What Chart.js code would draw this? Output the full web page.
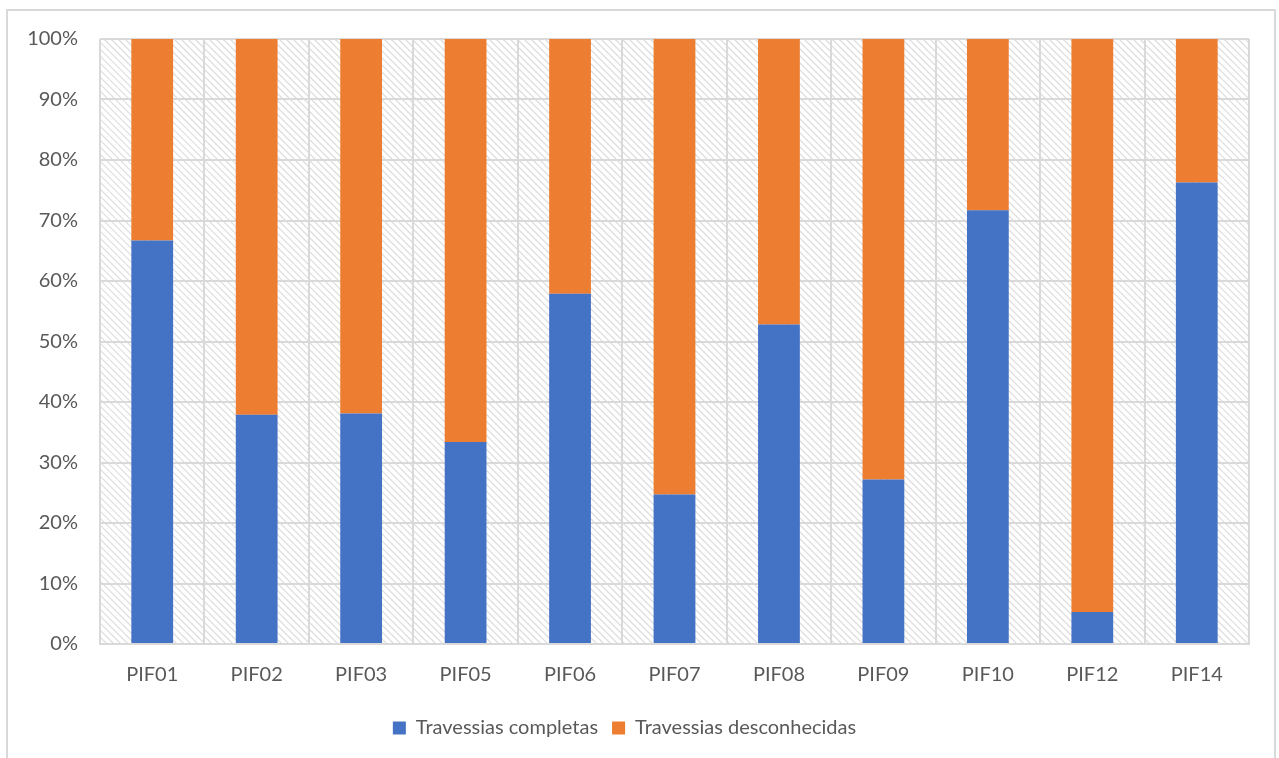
<!DOCTYPE html>
<html>
<head>
<meta charset="utf-8">
<script src="https://cdn.jsdelivr.net/npm/chart.js@4.4.1/dist/chart.umd.min.js"></script>
<style>
  html, body { margin: 0; padding: 0; background: #ffffff; overflow: hidden; }
  #frame {
    position: absolute; left: 6px; top: 9px; width: 1270px; height: 760px;
    border: 2px solid #d9d9d9; box-sizing: border-box;
  }
  #wrap { position: absolute; left: 0; top: 0; width: 1279px; height: 758px; }
</style>
</head>
<body>
<div id="frame"></div>
<div id="wrap"><canvas id="c" width="1279" height="758"></canvas></div>
<script>
// Crossing points and share of each crossing type (%)
const categories = ['PIF01', 'PIF02', 'PIF03', 'PIF05', 'PIF06', 'PIF07', 'PIF08', 'PIF09', 'PIF10', 'PIF12', 'PIF14'];
const completas = [66.7, 37.9, 38.1, 33.4, 57.9, 24.7, 52.8, 27.2, 71.7, 5.3, 76.3];
const desconhecidas = [33.3, 62.1, 61.9, 66.6, 42.1, 75.3, 47.2, 72.8, 28.3, 94.7, 23.7];
const seriesNames = ['Travessias completas', 'Travessias desconhecidas'];

const FONT = 'Lato, "Liberation Sans", sans-serif';
const TEXT = '#595959';
const GRID = '#d9d9d9';

// Diagonal hatching behind the bars
const hatchPlugin = {
  id: 'hatch',
  beforeDraw(chart) {
    const { ctx, chartArea: a } = chart;
    ctx.save();
    ctx.beginPath();
    ctx.rect(a.left, a.top, a.right - a.left, a.bottom - a.top);
    ctx.clip();
    ctx.strokeStyle = '#dcdcdc';
    ctx.lineWidth = 1.2;
    const h = a.bottom - a.top;
    ctx.beginPath();
    for (let x = a.left - h; x < a.right; x += 7) {
      ctx.moveTo(x, a.top);
      ctx.lineTo(x + h, a.bottom);
    }
    ctx.stroke();
    ctx.restore();
  }
};

new Chart(document.getElementById('c'), {
  type: 'bar',
  data: {
    labels: categories,
    datasets: [
      { label: seriesNames[0], data: completas, backgroundColor: '#4472C4' },
      { label: seriesNames[1], data: desconhecidas, backgroundColor: '#ED7D31' }
    ]
  },
  options: {
    responsive: false,
    animation: false,
    devicePixelRatio: 1,
    layout: { padding: { left: 0, top: 39, right: 30, bottom: 10 } },
    datasets: { bar: { categoryPercentage: 1, barPercentage: 0.4 } },
    scales: {
      x: {
        stacked: true,
        grid: { color: GRID, lineWidth: 2, offset: true, drawTicks: false },
        border: { display: true, color: GRID, width: 2 },
        ticks: { color: TEXT, font: { family: FONT, size: 20 }, padding: 19 },
        afterFit(s) { s.height = 60; }
      },
      y: {
        stacked: true,
        min: 0, max: 100,
        grid: { color: GRID, lineWidth: 2, drawTicks: false },
        border: { display: false },
        ticks: {
          stepSize: 10,
          color: TEXT,
          font: { family: FONT, size: 20 },
          padding: 22,
          callback: v => v + '%'
        },
        afterFit(s) { s.width = 100; }
      }
    },
    plugins: {
      legend: {
        position: 'bottom',
        labels: {
          color: TEXT,
          font: { family: FONT, size: 20 },
          boxWidth: 13, boxHeight: 13,
          padding: 14
        }
      },
      tooltip: { enabled: false }
    }
  },
  plugins: [hatchPlugin]
});
</script>
</body>
</html>
